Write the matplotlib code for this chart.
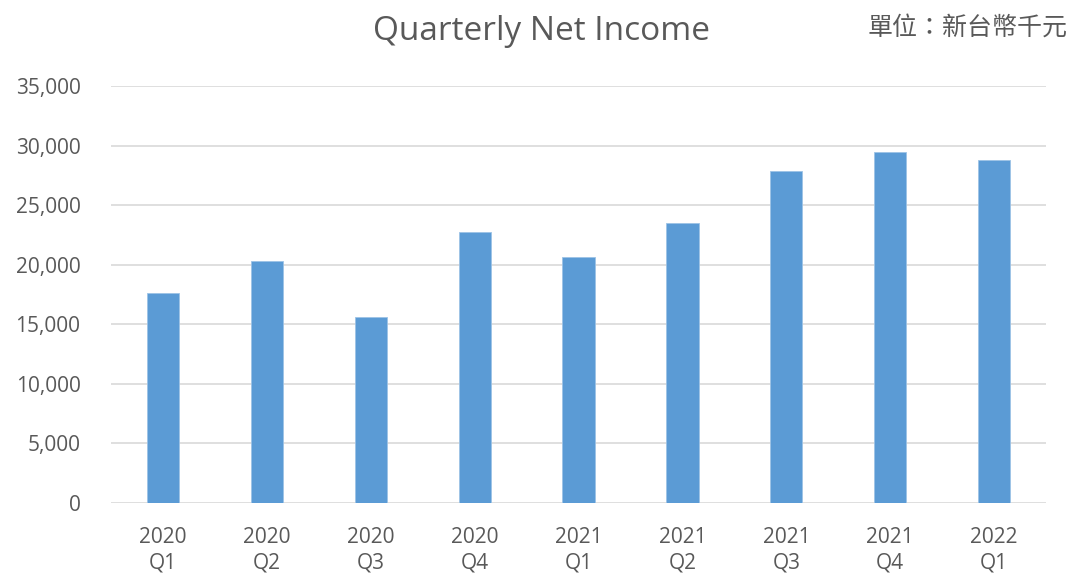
import matplotlib
matplotlib.use("Agg")
import matplotlib.pyplot as plt
from matplotlib.ticker import FuncFormatter

categories = ["2020\nQ1", "2020\nQ2", "2020\nQ3", "2020\nQ4", "2021\nQ1",
              "2021\nQ2", "2021\nQ3", "2021\nQ4", "2022\nQ1"]
net_income = [17600, 20300, 15650, 22750, 20680, 23500, 27900, 29500, 28780]
y_ticks = [0, 5000, 10000, 15000, 20000, 25000, 30000, 35000]

plt.rcParams['font.family'] = ['Open Sans', 'Noto Sans CJK TC', 'DejaVu Sans']
gray = "#595959"

fig = plt.figure(figsize=(10.74, 5.77), dpi=100)
ax = fig.add_axes([0.1034, 0.1282, 0.8706, 0.7222])

x = list(range(len(categories)))
ax.bar(x, net_income, width=0.31, color="#5B9BD5", edgecolor="#9DC3E6", linewidth=0.6, zorder=3)

ax.set_xlim(-0.5, len(categories) - 0.5)
ax.set_ylim(0, 35000)
ax.set_yticks(y_ticks)
ax.yaxis.set_major_formatter(FuncFormatter(lambda v, p: f"{int(v):,}"))
ax.set_xticks(x)
ax.set_xticklabels(categories, linespacing=1.3)

ax.grid(axis="y", color="#D9D9D9", linewidth=1.2, zorder=0)
for s in ["top", "right", "left", "bottom"]:
    ax.spines[s].set_visible(False)
ax.tick_params(axis="both", length=0, labelsize=15, colors=gray)
ax.tick_params(axis="y", pad=22)
ax.tick_params(axis="x", pad=17)

fig.text(0.504, 0.945, "Quarterly Net Income", ha="center", va="center",
         fontsize=24, color=gray)
fig.text(0.994, 0.952, "單位：新台幣千元", ha="right", va="center",
         fontsize=18, color=gray, fontweight="light",
         family=['Noto Sans CJK TC', 'DejaVu Sans'])

fig.savefig("out.png", dpi=100)
